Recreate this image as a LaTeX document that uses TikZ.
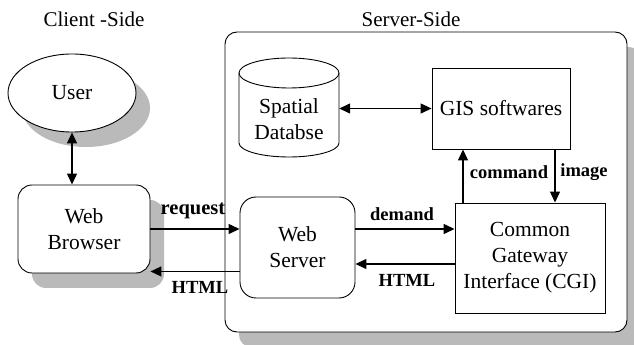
\documentclass[tikz,border=0pt]{standalone}
\usepackage{fontspec}
\setmainfont{Liberation Serif}
\usetikzlibrary{arrows.meta,shapes.geometric,shadows}
\begin{document}
\begin{tikzpicture}[x=1pt,y=1pt,
  txt/.style={font=\fontsize{21.5}{26}\selectfont},
  box/.style={draw=black, line width=0.9pt, fill=white, inner sep=0pt, align=center, txt},
  rbox/.style={box, rounded corners=14pt},
  shadowed/.style={drop shadow={shadow xshift=14pt, shadow yshift=-15pt, fill=black!27, opacity=1}},
  tip/.tip={Triangle[length=11pt,width=10pt]},
  arr/.style={line width=1.3pt, -tip},
  biarr/.style={line width=1.3pt, tip-tip},
  lbl/.style={font=\bfseries\fontsize{18.5}{22}\selectfont, inner sep=0pt},
  title/.style={font=\fontsize{21}{25}\selectfont, inner sep=0pt, anchor=base}
]
\useasboundingbox (0,0) rectangle (634,345);
\clip (0,0) rectangle (634,345);

% column headings
\node[title] (tc) at (94,318) {Client -Side};
\node[title] (ts) at (411,318) {Server-Side};

% server-side frame
\node[draw, line width=0.9pt, fill=white, rounded corners=12pt, inner sep=0pt,
      minimum width=402pt, minimum height=300pt, shadowed] (srv) at (426,163) {};

% client side
\node[ellipse, draw, line width=0.9pt, fill=white, minimum width=128pt, minimum height=78pt,
      inner sep=0pt, txt, shadowed] (user) at (72,252) {User};
\node[rbox, minimum width=132pt, minimum height=88pt, shadowed] (browser) at (84,116) {Web\\Browser};

% server components
\node[rbox, rounded corners=16pt, minimum width=115pt, minimum height=101pt] (ws) at (297.5,97.5) {Web\\Server};
\node[box, minimum width=150pt, minimum height=110pt] (cgi) at (530,87) {Common\\Gateway\\Interface (CGI)};
\node[box, minimum width=138pt, minimum height=81pt] (gis) at (501,236.5) {GIS softwares};

% database cylinder
\draw[line width=0.9pt, fill=white] (239,272) -- (239,202)
  arc[start angle=180, end angle=360, x radius=50, y radius=14] -- (339,272);
\draw[line width=0.9pt] (289,272) ellipse [x radius=50, y radius=15];
\node[inner sep=0pt, minimum width=100pt, align=center, txt] (db) at (289,226) {Spatial\\Databse};

% connectors
\draw[biarr] (user.south) -- (user.south |- browser.north);
\draw[arr] (browser.east) -- (browser.east -| ws.west);
\draw[arr] ([yshift=2pt]ws.west |- browser.south) -- ([yshift=2pt]browser.south east);
\draw[arr] (ws.east |- browser.east) -- (cgi.west |- browser.east);
\draw[arr] ([yshift=-6pt]cgi.west) -- ([yshift=-6pt]cgi.west -| ws.east);
\draw[arr] ([xshift=-67pt]cgi.north) -- ([xshift=-67pt]cgi.north |- gis.south);
\draw[arr] ([xshift=25pt]cgi.north |- gis.south) -- ([xshift=25pt]cgi.north);
\draw[biarr] (db.east |- gis.west) -- (gis.west);

% connector labels
\node[lbl, font=\bfseries\fontsize{20.5}{24}\selectfont] (lreq) at (193,134) {request};
\node[lbl] (lhtml1) at (200,58) {HTML};
\node[lbl] (ldem) at (402,131) {demand};
\node[lbl] (lhtml2) at (407,65) {HTML};
\node[lbl] (lcmd) at (509,173) {command};
\node[lbl] (limg) at (584,173) {image};
\end{tikzpicture}
\end{document}
